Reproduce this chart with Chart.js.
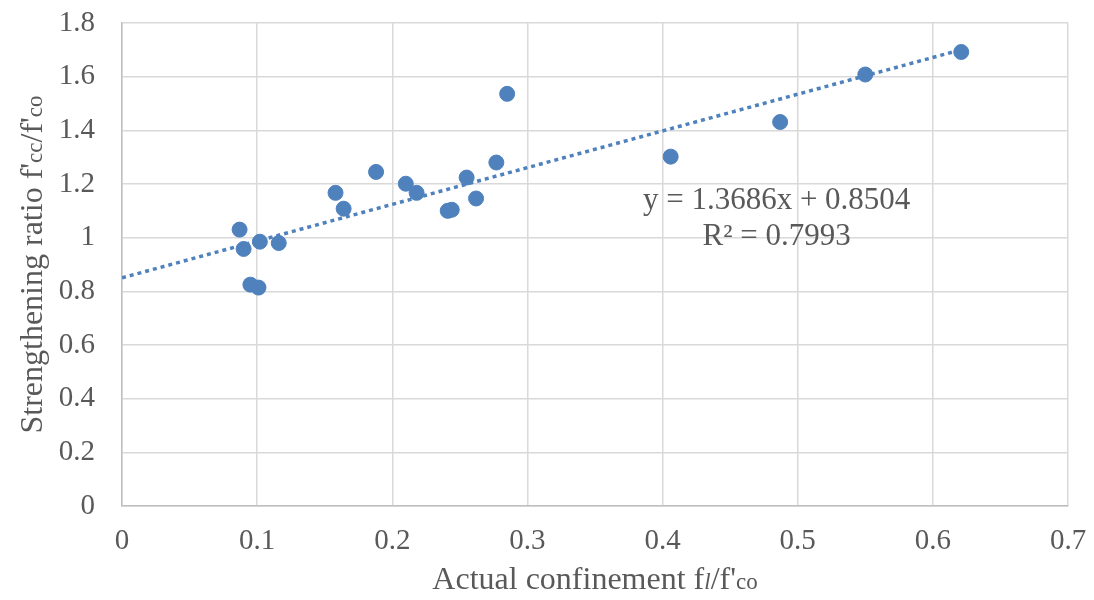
<!DOCTYPE html>
<html>
<head>
<meta charset="utf-8">
<script src="https://cdn.jsdelivr.net/npm/chart.js@4.4.0/dist/chart.umd.min.js"></script>
<style>
  html, body { margin: 0; padding: 0; background: #fff; }
  #wrap { width: 1094px; height: 600px; position: relative; }
</style>
</head>
<body>
<div id="wrap"><canvas id="scatterChart"></canvas></div>
<script>
// actual confinement fl/f'co (x) and strengthening ratio f'cc/f'co (y)
const confinement = [0.087, 0.090, 0.095, 0.101, 0.102, 0.116, 0.158, 0.164, 0.188, 0.210, 0.218,
                     0.241, 0.244, 0.255, 0.262, 0.277, 0.285, 0.406, 0.487, 0.550, 0.621];
const strengthRatio = [1.030, 0.958, 0.825, 0.814, 0.985, 0.980, 1.167, 1.108, 1.245, 1.201, 1.167,
                       1.100, 1.104, 1.224, 1.146, 1.280, 1.536, 1.302, 1.431, 1.608, 1.692];

// trendline shown in the chart: y = 1.3686x + 0.8504
const trendSlope = 1.3686;
const trendIntercept = 0.8504;
const trendRange = [0, 0.621];
const trendLabel = ['y = 1.3686x + 0.8504', 'R\u00b2 = 0.7993'];

const xTicks = [0, 0.1, 0.2, 0.3, 0.4, 0.5, 0.6, 0.7];
const yTicks = [0, 0.2, 0.4, 0.6, 0.8, 1, 1.2, 1.4, 1.6, 1.8];

const blue = '#4F81BD';
const textColor = '#595959';
const serif = '"Liberation Serif", "Times New Roman", serif';

const points = confinement.map((x, i) => ({ x: x, y: strengthRatio[i] }));
const trendPoints = trendRange.map(x => ({ x: x, y: trendSlope * x + trendIntercept }));

// text runs: [text, size, italic]
function partsWidth(ctx, parts) {
    let w = 0;
    parts.forEach(p => {
        ctx.font = (p[2] ? 'italic ' : '') + p[1] + 'px ' + serif;
        w += ctx.measureText(p[0]).width;
    });
    return w;
}
function drawParts(ctx, parts, x, y) {
    parts.forEach(p => {
        ctx.font = (p[2] ? 'italic ' : '') + p[1] + 'px ' + serif;
        ctx.fillText(p[0], x, y);
        x += ctx.measureText(p[0]).width;
    });
}

const xTitle = [['Actual confinement f', 32], ['l', 23, true], ['/f\'', 32], ['co', 23]];
const yTitle = [['Strengthening ratio f\'', 32], ['cc', 23], ['/f\'', 32], ['co', 23]];

const titlesPlugin = {
    id: 'titles',
    afterDraw(chart) {
        const ctx = chart.ctx;
        const area = chart.chartArea;
        const xs = chart.scales.x, ys = chart.scales.y;
        ctx.save();
        ctx.fillStyle = textColor;
        ctx.textBaseline = 'alphabetic';
        ctx.textAlign = 'left';

        // x title
        let w = partsWidth(ctx, xTitle);
        drawParts(ctx, xTitle, (area.left + area.right) / 2 - w / 2, 589);

        // y title (rotated)
        w = partsWidth(ctx, yTitle);
        ctx.save();
        ctx.translate(42, (area.top + area.bottom) / 2);
        ctx.rotate(-Math.PI / 2);
        drawParts(ctx, yTitle, -w / 2, 0);
        ctx.restore();

        // trendline label
        ctx.font = '31px ' + serif;
        ctx.textAlign = 'center';
        ctx.fillText(trendLabel[0], xs.getPixelForValue(0.4844), ys.getPixelForValue(1.107));
        ctx.fillText(trendLabel[1], xs.getPixelForValue(0.4844), ys.getPixelForValue(0.973));
        ctx.restore();
    }
};

new Chart(document.getElementById('scatterChart'), {
    type: 'scatter',
    data: {
        datasets: [{
            label: 'Trend',
            data: trendPoints,
            showLine: true,
            borderColor: blue,
            borderWidth: 3.5,
            borderDash: [4, 4],
            pointRadius: 0,
            fill: false
        }, {
            label: 'Data',
            data: points,
            backgroundColor: blue,
            borderColor: blue,
            pointRadius: 7.5,
            pointHoverRadius: 7.5
        }]
    },
    options: {
        responsive: true,
        maintainAspectRatio: false,
        animation: false,
        layout: { padding: { top: 23, right: 26, bottom: 0, left: 0 } },
        plugins: {
            legend: { display: false },
            tooltip: { enabled: false }
        },
        scales: {
            x: {
                type: 'linear',
                min: 0,
                max: 0.7,
                afterBuildTicks: axis => { axis.ticks = xTicks.map(v => ({ value: v })); },
                afterFit: axis => {
                    axis.height = 94;
                    axis.paddingLeft = 0;
                    axis.paddingRight = 0;
                },
                grid: { color: '#D9D9D9', lineWidth: 1.5, drawTicks: false },
                border: { color: '#BFBFBF', width: 1.5 },
                ticks: {
                    color: textColor,
                    padding: 18,
                    font: { family: serif, size: 29 },
                    callback: v => String(Number(v.toFixed(1)))
                }
            },
            y: {
                type: 'linear',
                min: 0,
                max: 1.8,
                afterBuildTicks: axis => { axis.ticks = yTicks.map(v => ({ value: v })); },
                afterFit: axis => {
                    axis.width = 122;
                    axis.paddingTop = 0;
                    axis.paddingBottom = 0;
                },
                grid: { color: '#D9D9D9', lineWidth: 1.5, drawTicks: false },
                border: { color: '#BFBFBF', width: 1.5 },
                ticks: {
                    color: textColor,
                    padding: 27,
                    font: { family: serif, size: 29 },
                    callback: v => String(Number(v.toFixed(1)))
                }
            }
        }
    },
    plugins: [titlesPlugin]
});
</script>
</body>
</html>
